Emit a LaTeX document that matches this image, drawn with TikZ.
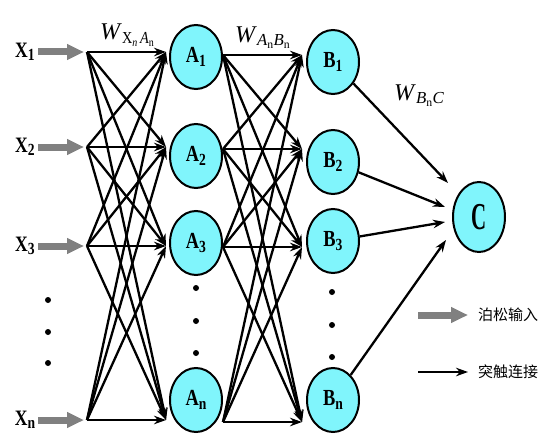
\documentclass[tikz,border=0pt]{standalone}
\usepackage{fontspec}
\setmainfont{Liberation Serif}
\newfontfamily\cjkfont{Noto Sans CJK SC}
\usetikzlibrary{shapes.geometric,arrows.meta}
\definecolor{nodecyan}{RGB}{128,245,252}
\definecolor{arrgray}{RGB}{128,128,128}
\newcommand\nsub[1]{\raisebox{-0.35ex}{\fontsize{17}{17}\selectfont #1}}
\tikzset{
  neuron/.style={ellipse,draw=black,line width=2pt,fill=nodecyan,
    minimum width=52pt,minimum height=64pt,inner sep=0pt,
    font=\bfseries\fontsize{23}{23}\selectfont},
  syn/.style={line width=2.3pt,-{Stealth[length=12pt,width=8.5pt]}},
  poisson/.style={line width=7pt,arrgray,-{Triangle[length=17pt,width=15pt]}},
  dotmark/.style={circle,fill=black,inner sep=0pt,minimum size=6pt},
  xlbl/.style={inner sep=0pt,anchor=base,font=\bfseries\fontsize{22}{22}\selectfont},
  wlbl/.style={inner sep=0pt,anchor=base west,font=\fontsize{24}{24}\selectfont},
  leg/.style={inner sep=0pt,anchor=west,font=\cjkfont\fontsize{15}{15}\selectfont},
}
\begin{document}
\begin{tikzpicture}[x=1pt,y=-1pt]
\useasboundingbox (0,0) rectangle (543,444);
% input labels
\node[xlbl] (X1) at (25,57) {\scalebox{0.8}[1]{X\nsub{1}}};
\node[xlbl] (X2) at (25,152) {\scalebox{0.8}[1]{X\nsub{2}}};
\node[xlbl] (X3) at (25,251) {\scalebox{0.8}[1]{X\nsub{3}}};
\node[xlbl] (X4) at (25,425) {\scalebox{0.8}[1]{X\nsub{n}}};
% junctions and targets
\foreach \i/\y in {1/52,2/147,3/246,4/420}{
  \coordinate (j\i) at (87,\y);
  \coordinate (ta\i) at (166,\y);
  \coordinate (ps\i) at (38,\y);
  \coordinate (pe\i) at (84,\y);
}
\foreach \i/\y in {1/55,2/149,3/247,4/422}{
  \coordinate (sa\i) at (223,\y);
  \coordinate (tb\i) at (302,\y);
}
% poisson arrows
\foreach \i in {1,2,3,4}{
  \draw[poisson] (ps\i) -- (pe\i);
}
% neurons
\node[neuron] (A1) at (196,57) {\scalebox{0.8}[1]{A\nsub{1}}};
\node[neuron] (A2) at (196,156) {\scalebox{0.8}[1]{A\nsub{2}}};
\node[neuron] (A3) at (196,243) {\scalebox{0.8}[1]{A\nsub{3}}};
\node[neuron] (A4) at (196,400) {\scalebox{0.8}[1]{A\nsub{n}}};
\node[neuron] (B1) at (333,62) {\scalebox{0.8}[1]{B\nsub{1}}};
\node[neuron] (B2) at (333,162) {\scalebox{0.8}[1]{B\nsub{2}}};
\node[neuron] (B3) at (333,241) {\scalebox{0.8}[1]{B\nsub{3}}};
\node[neuron] (B4) at (333,400) {\scalebox{0.8}[1]{B\nsub{n}}};
\node[neuron,minimum height=70pt,font=\bfseries\fontsize{38}{38}\selectfont] (C) at (479,217) {\scalebox{0.55}[1]{C}};
% full connections
\foreach \i in {1,2,3,4}{
  \foreach \k in {1,2,3,4}{
    \draw[syn] (j\i) -- (ta\k);
    \draw[syn] (sa\i) -- (tb\k);
  }
}
% to C
\coordinate (c1) at (448,183);
\coordinate (c2) at (445,207);
\coordinate (c3) at (445,222);
\coordinate (c4) at (446,240);
\foreach \i in {1,2,3,4}{
  \draw[syn] (B\i) -- (c\i);
}
% dots
\foreach \y in {300,332,363}{\node[dotmark] at (48,\y) {};}
\foreach \y in {288,321,353}{\node[dotmark] at (196,\y) {};}
\foreach \y in {292,325,357}{\node[dotmark] at (332,\y) {};}
% weight labels
\node[wlbl] (w1) at (100,40) {\textit{W}\textsubscript{\scalebox{0.85}[1]{X\textsubscript{\textit{n}}\,\textit{A}\textsubscript{n}}}};
\node[wlbl] (w2) at (235,42) {\textit{W}\textsubscript{\textit{A}\textsubscript{n}\textit{B}\textsubscript{n}}};
\node[wlbl] (w3) at (394,100) {\textit{W}\textsubscript{\textit{B}\textsubscript{n}\textit{C}}};
% legend
\coordinate (lg1) at (418,315);
\coordinate (lg2) at (468,315);
\draw[poisson] (lg1) -- (lg2);
\node[leg] (t1) at (478,315) {泊松输入};
\coordinate (lb1) at (418,372);
\coordinate (lb2) at (468,372);
\draw[syn] (lb1) -- (lb2);
\node[leg] (t2) at (478,372) {突触连接};
\end{tikzpicture}
\end{document}
